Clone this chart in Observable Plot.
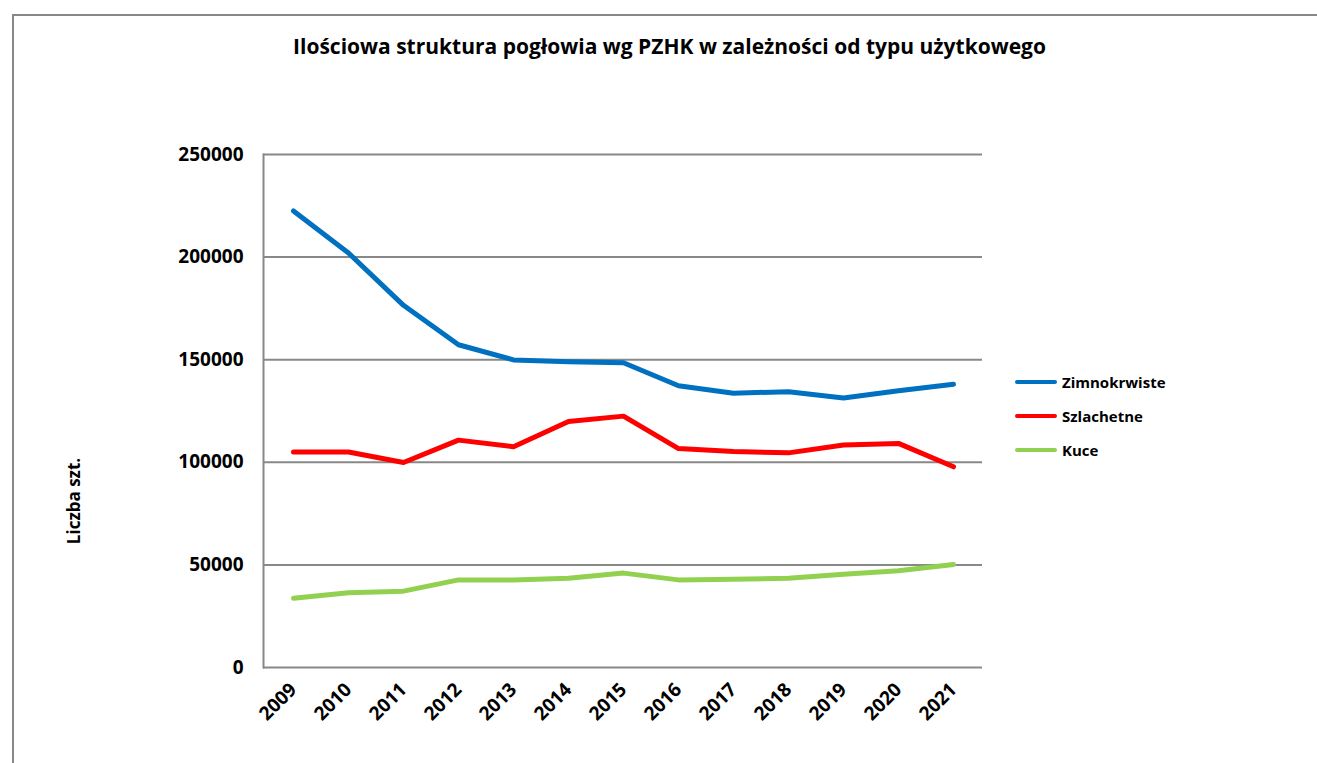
<!DOCTYPE html>
<html>
<head>
<meta charset="utf-8">
<script src="https://cdn.jsdelivr.net/npm/d3@7"></script>
<script src="https://cdn.jsdelivr.net/npm/@observablehq/plot@0.6"></script>
<style>
  html, body { margin: 0; padding: 0; background: #fff; overflow: hidden; width: 1317px; height: 763px; }
  #wrap { position: relative; width: 1317px; height: 763px; font-family: "Open Sans", "Noto Sans", sans-serif; }
  #border { position: absolute; left: 12px; top: 14px; width: 1400px; height: 900px; border: 2px solid #888; box-sizing: border-box; }
  #title { position: absolute; left: 0; width: 1339px; top: 32px; text-align: center; font-weight: 700; font-size: 21px; color: #000; white-space: nowrap; }
  #ylabel { position: absolute; left: 73px; top: 501px; transform: translate(-50%, -50%) rotate(-90deg); font-weight: 700; font-size: 17px; white-space: nowrap; }
  #chart { position: absolute; left: 0; top: 0; }
  .leg { position: absolute; left: 1015px; display: flex; align-items: center; font-weight: 700; font-size: 15px; white-space: nowrap; }
  .leg span.sw { display: inline-block; width: 42px; height: 4px; border-radius: 2px; margin-right: 5px; }
</style>
</head>
<body>
<div id="wrap">
  <div id="border"></div>
  <div id="chart"></div>
  <div id="title">Ilościowa struktura pogłowia wg PZHK w zależności od typu użytkowego</div>
  <div id="ylabel">Liczba szt.</div>
  <div id="legend"></div>
</div>
<script>
const years = ["2009","2010","2011","2012","2013","2014","2015","2016","2017","2018","2019","2020","2021"];
const zimnokrwiste = [222500, 202000, 176500, 157300, 149900, 149000, 148500, 137300, 133700, 134400, 131300, 134900, 138000];
const szlachetne   = [105000, 105000, 99900, 110800, 107600, 119900, 122500, 106700, 105300, 104600, 108400, 109200, 97800];
const kuce         = [33700, 36400, 37200, 42700, 42600, 43500, 46000, 42700, 43000, 43500, 45500, 47100, 50200];
const seriesNames  = ["Zimnokrwiste", "Szlachetne", "Kuce"];
const seriesColors = ["#0070C0", "#FF0000", "#92D050"];
const yTicks = [0, 50000, 100000, 150000, 200000, 250000];

const seriesValues = [zimnokrwiste, szlachetne, kuce];
const rows = [];
seriesNames.forEach((name, i) => {
  years.forEach((yr, j) => rows.push({ year: yr, value: seriesValues[i][j], series: name }));
});

const plot = Plot.plot({
  width: 1317,
  height: 763,
  marginLeft: 263,
  marginRight: 335,
  marginTop: 154,
  marginBottom: 96,
  style: { fontFamily: "'Open Sans', 'Noto Sans', sans-serif", fontWeight: 700, fontSize: "19px", color: "#000", background: "transparent" },
  x: { type: "point", domain: years, padding: 0.5 },
  y: { domain: [0, 250000] },
  color: { domain: seriesNames, range: seriesColors },
  marks: [
    Plot.ruleY(yTicks, { stroke: "#888", strokeWidth: 2 }),
    Plot.frame({ anchor: "left", stroke: "#888", strokeWidth: 2 }),
    Plot.axisY({ ticks: yTicks, tickFormat: d => String(d), tickSize: 0, tickPadding: 20, label: null }),
    Plot.axisX({ tickRotate: -45, tickSize: 0, tickPadding: 19, label: null }),
    Plot.line(rows, { x: "year", y: "value", z: "series", stroke: "series", strokeWidth: 5, strokeLinejoin: "round", strokeLinecap: "round" })
  ]
});
document.getElementById("chart").appendChild(plot);

const legend = document.getElementById("legend");
const legTops = [382, 416, 450];
seriesNames.forEach((name, i) => {
  const d = document.createElement("div");
  d.className = "leg";
  d.style.top = (legTops[i] - 10) + "px";
  d.style.height = "20px";
  d.innerHTML = `<span class="sw" style="background:${seriesColors[i]}"></span>${name}`;
  legend.appendChild(d);
});
</script>
</body>
</html>
